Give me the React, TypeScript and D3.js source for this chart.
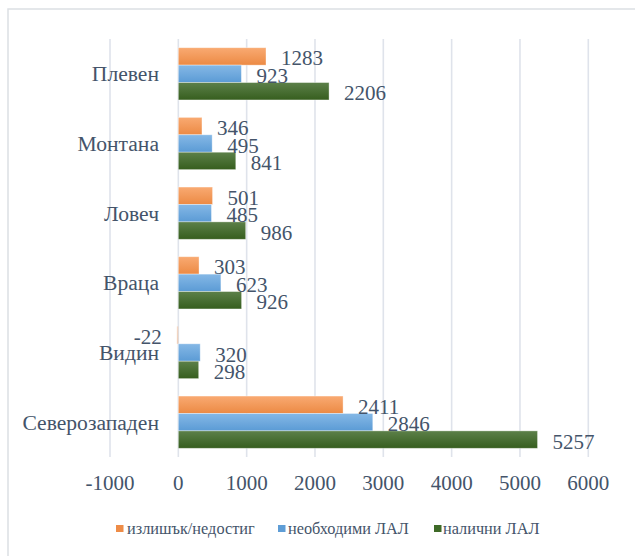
import React from "react";
import * as d3 from "d3";

const categories = ["Плевен", "Монтана", "Ловеч", "Враца", "Видин", "Северозападен"];
const seriesNames = ["излишък/недостиг", "необходими ЛАЛ", "налични ЛАЛ"];
const surplus = [1283, 346, 501, 303, -22, 2411];
const needed = [923, 495, 485, 623, 320, 2846];
const available = [2206, 841, 986, 926, 298, 5257];
const xTicks = [-1000, 0, 1000, 2000, 3000, 4000, 5000, 6000];

const W = 635;
const H = 556;
const font = "'Liberation Serif', 'Times New Roman', serif";
const textColor = "#44546A";

const gradients = [
  { id: "gOrange", top: "#F9AA72", bottom: "#EC8A44" },
  { id: "gBlue", top: "#85B8E6", bottom: "#5B9BD5" },
  { id: "gGreen", top: "#5C8049", bottom: "#365E1E" },
];
const legendColors = ["#EE8C47", "#5E9DD6", "#3E6A27"];

export default function App() {
  const values = [surplus, needed, available];
  const x = d3.scaleLinear().domain([-1000, 6000]).range([110, 588.3]);
  const y = d3.scaleBand<string>().domain(categories).range([39, 457]).padding(0);
  const step = y.step();
  const sub = d3
    .scaleBand<number>()
    .domain([0, 1, 2])
    .range([step * 0.125, step * 0.875])
    .padding(0);

  const legendItems = [
    { marker: 116, text: 127 },
    { marker: 278, text: 288 },
    { marker: 434, text: 443 },
  ];

  return (
    <svg
      width={W}
      height={H}
      style={{ position: "absolute", left: 0, top: 0, background: "#fff" }}
      fontFamily={font}
    >
      <defs>
        {gradients.map((g) => (
          <linearGradient key={g.id} id={g.id} x1="0" y1="0" x2="0" y2="1">
            <stop offset="0" stopColor={g.top} />
            <stop offset="1" stopColor={g.bottom} />
          </linearGradient>
        ))}
      </defs>
      <rect x={0} y={0} width={W} height={H} fill="#fff" />
      <rect x={8} y={9} width={700} height={700} fill="none" stroke="#DCDFE4" strokeWidth={1.5} />

      {/* gridlines */}
      {xTicks.map((t) => (
        <line
          key={"g" + t}
          x1={x(t)}
          x2={x(t)}
          y1={39}
          y2={457}
          stroke="#DFE3EB"
          strokeWidth={1.6}
        />
      ))}

      {/* bars */}
      {categories.map((c, ci) =>
        values.map((vals, si) => {
          const v = vals[ci];
          const x0 = x(Math.min(0, v));
          const x1 = x(Math.max(0, v));
          const by = (y(c) as number) + (sub(si) as number);
          const bh = sub.bandwidth();
          const tiny = x1 - x0 < 3;
          return (
            <rect
              key={c + si}
              x={x0}
              y={by}
              width={Math.max(0, x1 - x0)}
              height={bh}
              fill={`url(#${gradients[si].id})`}
              fillOpacity={tiny ? 0.35 : 1}
              stroke={tiny ? "none" : "#ffffff"}
              strokeOpacity={0.45}
              strokeWidth={0.8}
            />
          );
        })
      )}

      {/* data labels */}
      {categories.map((c, ci) =>
        values.map((vals, si) => {
          const v = vals[ci];
          const cy = (y(c) as number) + (sub(si) as number) + sub.bandwidth() / 2;
          const neg = v < 0;
          return (
            <text
              key={"l" + c + si}
              x={neg ? x(v) - 15 : x(v) + 15}
              y={cy + 9}
              fontSize={21}
              fill={textColor}
              textAnchor={neg ? "end" : "start"}
            >
              {v}
            </text>
          );
        })
      )}

      {/* category labels */}
      {categories.map((c) => (
        <text
          key={"c" + c}
          x={159}
          y={(y(c) as number) + step / 2 + 7.5}
          fontSize={21.6}
          fill={textColor}
          textAnchor="end"
        >
          {c}
        </text>
      ))}

      {/* x tick labels */}
      {xTicks.map((t) => (
        <text
          key={"t" + t}
          x={x(t)}
          y={490}
          fontSize={21}
          fill={textColor}
          textAnchor="middle"
        >
          {t}
        </text>
      ))}

      {/* legend */}
      {seriesNames.map((n, i) => (
        <g key={n}>
          <rect x={legendItems[i].marker} y={525} width={7.5} height={7} fill={legendColors[i]} />
          <text x={legendItems[i].text} y={534} fontSize={16.3} fill={textColor}>
            {n}
          </text>
        </g>
      ))}
    </svg>
  );
}
